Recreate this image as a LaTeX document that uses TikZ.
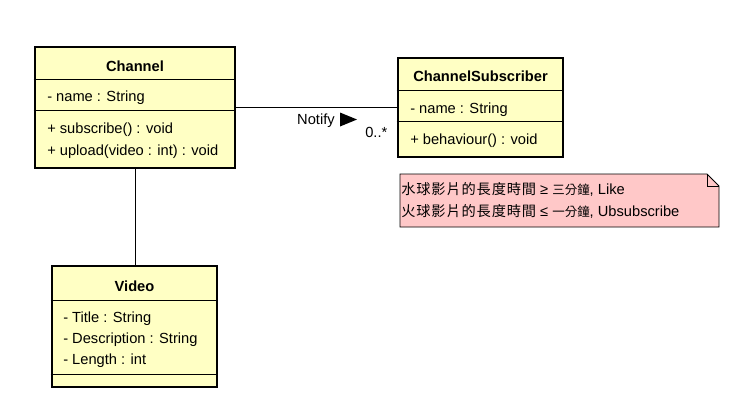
\documentclass[tikz,border=0pt]{standalone}
\usepackage{fontspec}
\setmainfont{Liberation Sans}
\newfontfamily\cjk[Scale=0.85]{Noto Sans CJK TC}
\newfontfamily\cjkwide[Scale=0.97,LetterSpace=6]{Noto Sans CJK TC}
\usetikzlibrary{positioning}
\definecolor{classyellow}{RGB}{255,255,196}
\definecolor{notepink}{RGB}{255,200,200}

\begin{document}
\begin{tikzpicture}[x=0.75pt, y=-0.75pt,
    classbox/.style={draw, line width=2.2pt, fill=classyellow, inner sep=0pt},
    classname/.style={font=\fontsize{11}{13}\selectfont\bfseries},
    member/.style={font=\fontsize{11}{13}\selectfont, anchor=west, inner sep=0pt},
    sep/.style={line width=0.7pt}]
  \useasboundingbox (0,0) rectangle (751,404);
  % Class boxes
  \node[classbox, minimum width=150pt, minimum height=90.75pt] (channel) at (135,107.5) {};
  \node[classbox, minimum width=123.75pt, minimum height=74.25pt] (subscriber) at (480.5,107.5) {};
  \node[classbox, minimum width=123.75pt, minimum height=90.75pt] (video) at (134.5,326.5) {};
  % compartments
  \draw[sep] (channel.west |- 0,79) -- (channel.east |- 0,79);
  \draw[sep] (channel.west |- 0,110) -- (channel.east |- 0,110);
  \draw[sep] (subscriber.west |- 0,90) -- (subscriber.east |- 0,90);
  \draw[sep] (subscriber.west |- 0,121) -- (subscriber.east |- 0,121);
  \draw[sep] (video.west |- 0,300) -- (video.east |- 0,300);
  \draw[sep] (video.west |- 0,374) -- (video.east |- 0,374);
  % Channel
  \node[classname] (channelname) at (135,66) {Channel};
  \node[member] (channelattr) at (47,97.5) {- name : String};
  \node[member] (subscribeop) at (47,129.5) {+ subscribe() : void};
  \node[member] (uploadop) at (47,151.5) {+ upload(video : int) : void};
  % ChannelSubscriber
  \node[classname] (subscribername) at (480.5,76) {ChannelSubscriber};
  \node[member] (subscriberattr) at (410,109.5) {- name : String};
  \node[member] (behaviourop) at (410,140.5) {+ behaviour() : void};
  % Video
  \node[classname] (videoname) at (134.5,286) {Video};
  \node[member] (titleattr) at (63,318.5) {- Title : String};
  \node[member] (descattr) at (63,339.5) {- Description : String};
  \node[member] (lengthattr) at (63,360.5) {- Length : int};
  % Associations
  \draw[sep] (channel) -- (subscriber);
  \draw[sep] (channel.south) -- (channel.south |- video.north);
  \node[member, anchor=east] (notify) at (335,121) {Notify};
  \fill (340,112.5) -- (357,119.5) -- (340,126.5) -- cycle;
  \node[member] (mult) at (365,132) {0..*};
  % Note
  \draw[fill=notepink, line width=0.6pt]
    (400,174) -- (707,174) -- (719,186) -- (719,227) -- (400,227) -- cycle;
  \draw[line width=0.6pt] (707,174) -- (707,186) -- (719,186);
  \node[member] (rulelike) at (401,189.5) {{\cjkwide 水球影片的長度時間} ≥ {\cjk 三分鐘}, Like};
  \node[member] (ruleunsub) at (401,211.5) {{\cjkwide 火球影片的長度時間} ≤ {\cjk 一分鐘}, Ubsubscribe};
\end{tikzpicture}
\end{document}
